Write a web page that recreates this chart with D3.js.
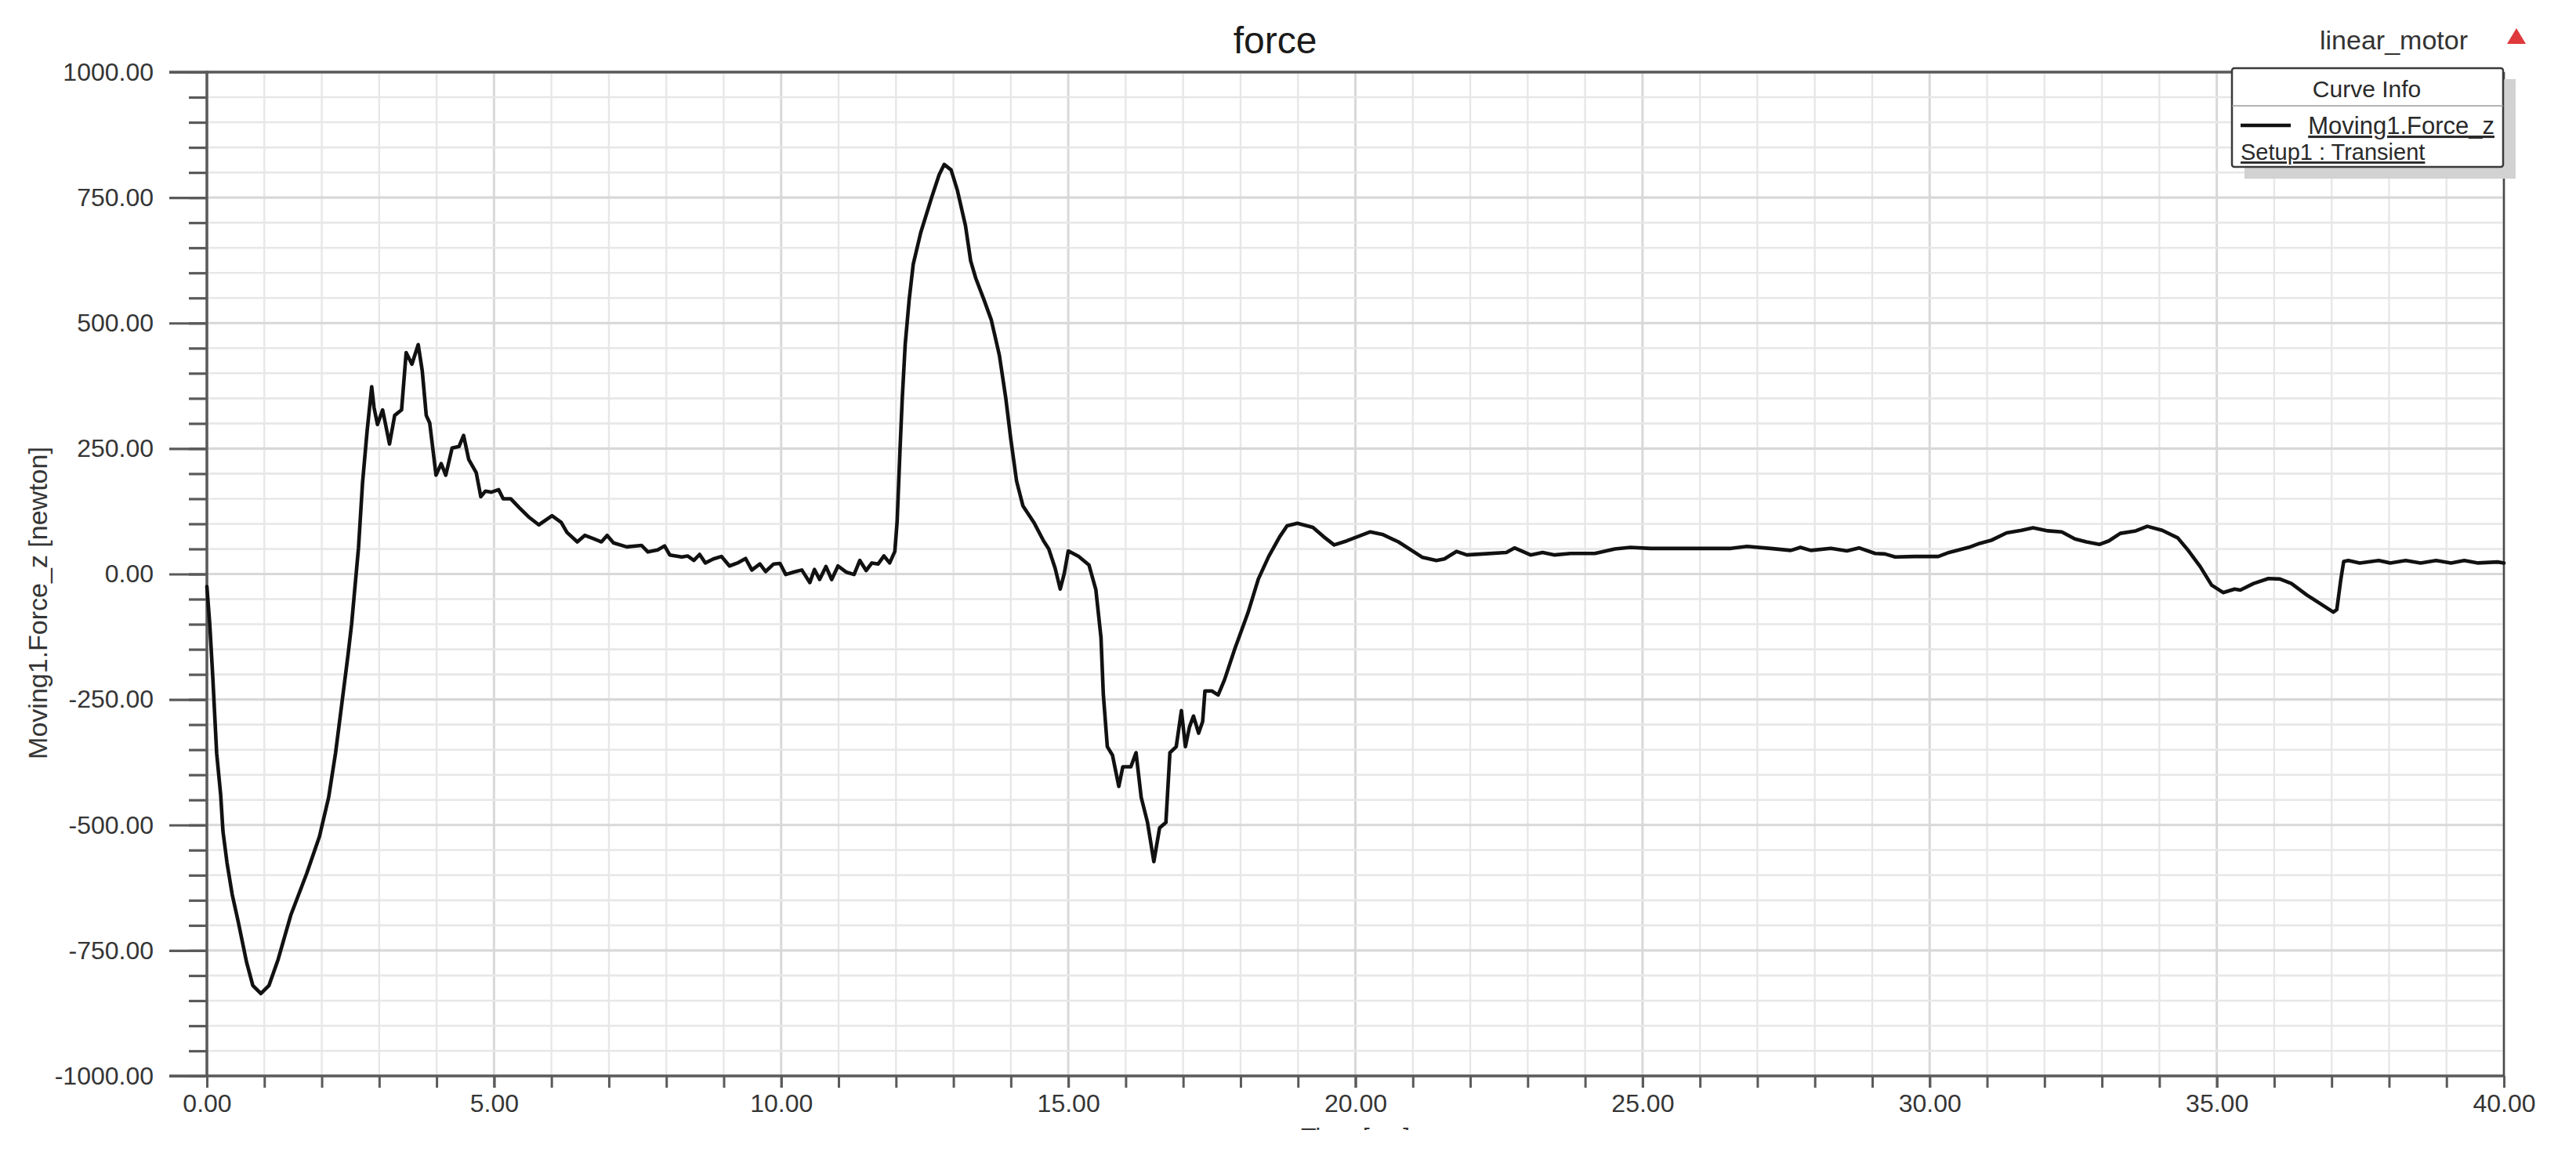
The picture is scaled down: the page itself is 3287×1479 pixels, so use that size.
<!DOCTYPE html>
<html>
<head>
<meta charset="utf-8">
<script src="https://cdn.jsdelivr.net/npm/d3@7"></script>
<style>
  html, body { margin: 0; padding: 0; background: #ffffff; }
  svg { display: block; }
  text { font-family: "Liberation Sans", Arial, sans-serif; }
</style>
</head>
<body>
<script>
// ---------- data ----------
const chartTitle = "force";
const projectName = "linear_motor";
const xLabel = "Time [ms]";
const yLabel = "Moving1.Force_z [newton]";
const legendHeader = "Curve Info";
const seriesName = "Moving1.Force_z";
const seriesSetup = "Setup1 : Transient";

const xTickValues = [0, 5, 10, 15, 20, 25, 30, 35, 40];
const yTickValues = [-1000, -750, -500, -250, 0, 250, 500, 750, 1000];

const timeMs = [
  0.00, 0.05, 0.10, 0.17, 0.24, 0.28, 0.35, 0.44, 0.55, 0.69, 0.80, 0.94, 1.08, 1.24, 1.46, 1.74, 1.96,
  2.12, 2.24, 2.35, 2.46, 2.52, 2.64, 2.71, 2.79, 2.87, 2.91, 2.97, 3.06, 3.18, 3.27, 3.39, 3.47, 3.57,
  3.68, 3.75, 3.82, 3.88, 3.99, 4.08, 4.16, 4.27, 4.39, 4.47, 4.56, 4.69, 4.77, 4.85, 4.95, 5.08, 5.16,
  5.29, 5.44, 5.60, 5.78, 6.01, 6.17, 6.27, 6.45, 6.58, 6.74, 6.87, 6.97, 7.08, 7.31, 7.57, 7.68, 7.85,
  7.97, 8.06, 8.27, 8.37, 8.48, 8.58, 8.68, 8.82, 8.96, 9.10, 9.24, 9.38, 9.49, 9.63, 9.73, 9.87, 9.98,
  10.08, 10.22, 10.36, 10.50, 10.58, 10.67, 10.78, 10.88, 10.99, 11.13, 11.27, 11.37, 11.48, 11.58, 11.69,
  11.79, 11.89, 11.98, 12.02, 12.07, 12.11, 12.16, 12.23, 12.30, 12.43, 12.62, 12.75, 12.84, 12.96, 13.07,
  13.21, 13.30, 13.39, 13.53, 13.66, 13.80, 13.91, 14.00, 14.10, 14.21, 14.41, 14.57, 14.66, 14.77, 14.86,
  14.93, 15.00, 15.18, 15.36, 15.48, 15.57, 15.61, 15.68, 15.77, 15.88, 15.95, 16.09, 16.18, 16.27, 16.38,
  16.49, 16.59, 16.70, 16.77, 16.88, 16.97, 17.04, 17.11, 17.18, 17.27, 17.34, 17.38, 17.50, 17.61, 17.72,
  17.90, 18.13, 18.31, 18.49, 18.68, 18.81, 18.99, 19.26, 19.45, 19.63, 19.85, 20.26, 20.47, 20.75, 21.17,
  21.41, 21.55, 21.76, 21.94, 22.22, 22.63, 22.77, 23.05, 23.26, 23.47, 23.75, 24.17, 24.52, 24.79, 25.14,
  25.84, 26.54, 26.82, 27.23, 27.58, 27.75, 27.93, 28.28, 28.56, 28.77, 29.05, 29.22, 29.40, 29.74, 30.15,
  30.34, 30.68, 30.87, 31.07, 31.34, 31.60, 31.80, 32.06, 32.30, 32.53, 32.73, 32.96, 33.12, 33.32, 33.59,
  33.79, 34.05, 34.32, 34.51, 34.71, 34.91, 35.11, 35.31, 35.41, 35.64, 35.90, 36.10, 36.30, 36.57, 36.83,
  37.03, 37.09, 37.16, 37.21, 37.29, 37.49, 37.82, 38.02, 38.29, 38.55, 38.82, 39.08, 39.31, 39.55, 39.89,
  40.00
];
const forceN = [
  -25, -100, -200, -357, -440, -513, -575, -638, -695, -773, -820, -836, -820, -768, -680, -596, -523,
  -445, -357, -258, -159, -100, 52, 181, 285, 373, 332, 298, 327, 259, 316, 327, 441, 418,
  457, 405, 316, 301, 197, 220, 197, 251, 254, 276, 228, 202, 154, 165, 163, 168, 150,
  150, 132, 114, 98, 116, 103, 83, 64, 77, 70, 64, 77, 62, 54, 57, 44, 48,
  56, 38, 34, 36, 27, 39, 22, 30, 35, 16, 22, 31, 8, 20, 5, 20, 21,
  -1, 4, 8, -17, 9, -11, 15, -11, 16, 4, -1, 27, 7, 22, 20,
  36, 22, 45, 105, 248, 352, 457, 547, 617, 680, 750, 795, 816, 805, 764,
  694, 624, 589, 547, 506, 436, 352, 268, 185, 136, 101, 66, 50, 12, -30,
  1, 46, 35, 18, -31, -127, -239, -344, -361, -423, -384, -384, -356, -445, -495,
  -573, -506, -495, -356, -344, -272, -344, -305, -283, -317, -294, -233, -233, -241, -211,
  -149, -77, -10, 35, 74, 96, 101, 93, 74, 58, 66, 84, 79, 64, 33,
  27, 30, 45, 38, 40, 43, 52, 38, 43, 38, 41, 41, 50, 53, 51,
  51, 51, 55, 51, 47, 53, 47, 51, 46, 52, 41, 40, 34, 35, 35,
  43, 53, 61, 67, 82, 87, 92, 86, 84, 70, 64, 59, 66, 81, 86,
  95, 87, 72, 46, 15, -22, -37, -30, -32, -19, -9, -10, -19, -42, -61,
  -76, -71, -11, 25, 27, 22, 27, 22, 27, 22, 27, 22, 27, 22, 24,
  22
];

// ---------- layout ----------
const W = 3287, H = 1479;
const L = 264, R = 3195, T = 92, B = 1373;

const svg = d3.select("body").append("svg").attr("width", W).attr("height", H);
svg.append("rect").attr("width", W).attr("height", H).attr("fill", "#ffffff");

const x = d3.scaleLinear().domain([0, 40]).range([L, R]);
const y = d3.scaleLinear().domain([-1000, 1000]).range([B, T]);
const fmt = d => d3.format(".2f")(d).replace("\u2212", "-");

// grid
const grid = svg.append("g");
grid.selectAll("line.vg").data(x.ticks(40)).join("line")
  .attr("x1", d => x(d)).attr("x2", d => x(d)).attr("y1", T).attr("y2", B)
  .attr("stroke", d => d % 5 === 0 ? "#d8d8d8" : "#e7e7e7")
  .attr("stroke-width", d => d % 5 === 0 ? 3 : 2.4);
grid.selectAll("line.hg").data(y.ticks(40)).join("line")
  .attr("x1", L).attr("x2", R).attr("y1", d => y(d)).attr("y2", d => y(d))
  .attr("stroke", d => d % 250 === 0 ? "#d8d8d8" : "#e7e7e7")
  .attr("stroke-width", d => d % 250 === 0 ? 3.2 : 2.6);

const axisColor = "#5a5a5a";
const labelColor = "#353535";

// y axis: minor ticks
const yMinor = d3.axisLeft(y).ticks(40).tickSize(23).tickFormat("");
const gyMinor = svg.append("g").attr("transform", `translate(${L},0)`).call(yMinor);
gyMinor.select(".domain").remove();
gyMinor.selectAll(".tick line").attr("stroke", axisColor).attr("stroke-width", 3.2);

// y axis: major ticks with labels
const yMajor = d3.axisLeft(y).tickValues(yTickValues).tickSize(48).tickPadding(20).tickFormat(fmt);
const gy = svg.append("g").attr("transform", `translate(${L},0)`).call(yMajor);
gy.select(".domain").remove();
gy.selectAll(".tick line").attr("stroke", axisColor).attr("stroke-width", 3.2);
gy.selectAll(".tick text").attr("fill", labelColor).attr("font-size", 32)
  .attr("font-family", "'Liberation Sans', Arial, sans-serif");

// x axis: minor ticks
const xMinor = d3.axisBottom(x).ticks(40).tickSize(15).tickFormat("");
const gxMinor = svg.append("g").attr("transform", `translate(0,${B})`).call(xMinor);
gxMinor.select(".domain").remove();
gxMinor.selectAll(".tick line").attr("stroke", axisColor).attr("stroke-width", 3);

// x axis: major with labels
const xMajor = d3.axisBottom(x).tickValues(xTickValues).tickSize(15).tickPadding(8).tickFormat(fmt);
const gx = svg.append("g").attr("transform", `translate(0,${B})`).call(xMajor);
gx.select(".domain").remove();
gx.selectAll(".tick line").attr("stroke", axisColor).attr("stroke-width", 3);
gx.selectAll(".tick text").attr("fill", labelColor).attr("font-size", 32)
  .attr("font-family", "'Liberation Sans', Arial, sans-serif");

// frame lines
svg.append("line").attr("x1", L).attr("x2", L).attr("y1", T - 1.5).attr("y2", B + 1.5)
  .attr("stroke", axisColor).attr("stroke-width", 3.5);
svg.append("line").attr("x1", L - 48).attr("x2", R).attr("y1", T).attr("y2", T)
  .attr("stroke", axisColor).attr("stroke-width", 3.5);
svg.append("line").attr("x1", L - 48).attr("x2", R).attr("y1", B).attr("y2", B)
  .attr("stroke", axisColor).attr("stroke-width", 3.5);
svg.append("line").attr("x1", R).attr("x2", R).attr("y1", T).attr("y2", B)
  .attr("stroke", "#4a4a4a").attr("stroke-width", 2.5);

// curve
const pts = timeMs.map((t, i) => [t, forceN[i]]);
const line = d3.line().x(d => x(d[0])).y(d => y(d[1]));
svg.append("path").datum(pts).attr("d", line)
  .attr("fill", "none").attr("stroke", "#111111").attr("stroke-width", 4.6)
  .attr("stroke-linejoin", "round").attr("stroke-linecap", "round");

// title
svg.append("text").attr("x", 1627).attr("y", 68).attr("text-anchor", "middle")
  .attr("font-size", 48).attr("fill", "#1a1a1a").text(chartTitle);

// y label
svg.append("text").attr("transform", `translate(60,${(T + B) / 2 + 37}) rotate(-90)`)
  .attr("text-anchor", "middle").attr("font-size", 34).attr("fill", labelColor).text(yLabel);

// x label (clipped at bottom like reference)
svg.append("text").attr("x", (L + R) / 2).attr("y", 1462).attr("text-anchor", "middle")
  .attr("font-size", 32).attr("fill", labelColor).text(xLabel);
svg.append("rect").attr("x", 0).attr("y", 1442).attr("width", W).attr("height", H - 1442).attr("fill", "#ffffff");

// project name + red marker
svg.append("text").attr("x", 3149).attr("y", 63).attr("text-anchor", "end")
  .attr("font-size", 34).attr("fill", "#333333").text(projectName);
svg.append("path").attr("d", "M3211,36 L3223,56 L3199,56 Z").attr("fill", "#e0393b");

// legend
const lg = svg.append("g");
lg.append("rect").attr("x", 2864).attr("y", 101).attr("width", 346).attr("height", 127).attr("fill", "#d2d2d2");
lg.append("rect").attr("x", 2848).attr("y", 87).attr("width", 346).attr("height", 126)
  .attr("fill", "#ffffff").attr("stroke", "#3a3a3a").attr("stroke-width", 2.5).attr("rx", 3);
lg.append("text").attr("x", 3020).attr("y", 124).attr("text-anchor", "middle")
  .attr("font-size", 30).attr("fill", "#2a2a2a").text(legendHeader);
lg.append("line").attr("x1", 2848).attr("x2", 3194).attr("y1", 135).attr("y2", 135)
  .attr("stroke", "#9a9a9a").attr("stroke-width", 1.5);
lg.append("line").attr("x1", 2859).attr("x2", 2923).attr("y1", 160).attr("y2", 160)
  .attr("stroke", "#111111").attr("stroke-width", 4.5);
lg.append("text").attr("x", 3183).attr("y", 171).attr("text-anchor", "end")
  .attr("font-size", 31).attr("fill", "#2a2a2a").attr("text-decoration", "underline").text(seriesName);
lg.append("text").attr("x", 2859).attr("y", 204)
  .attr("font-size", 29).attr("fill", "#2a2a2a").attr("text-decoration", "underline").text(seriesSetup);
</script>
</body>
</html>
